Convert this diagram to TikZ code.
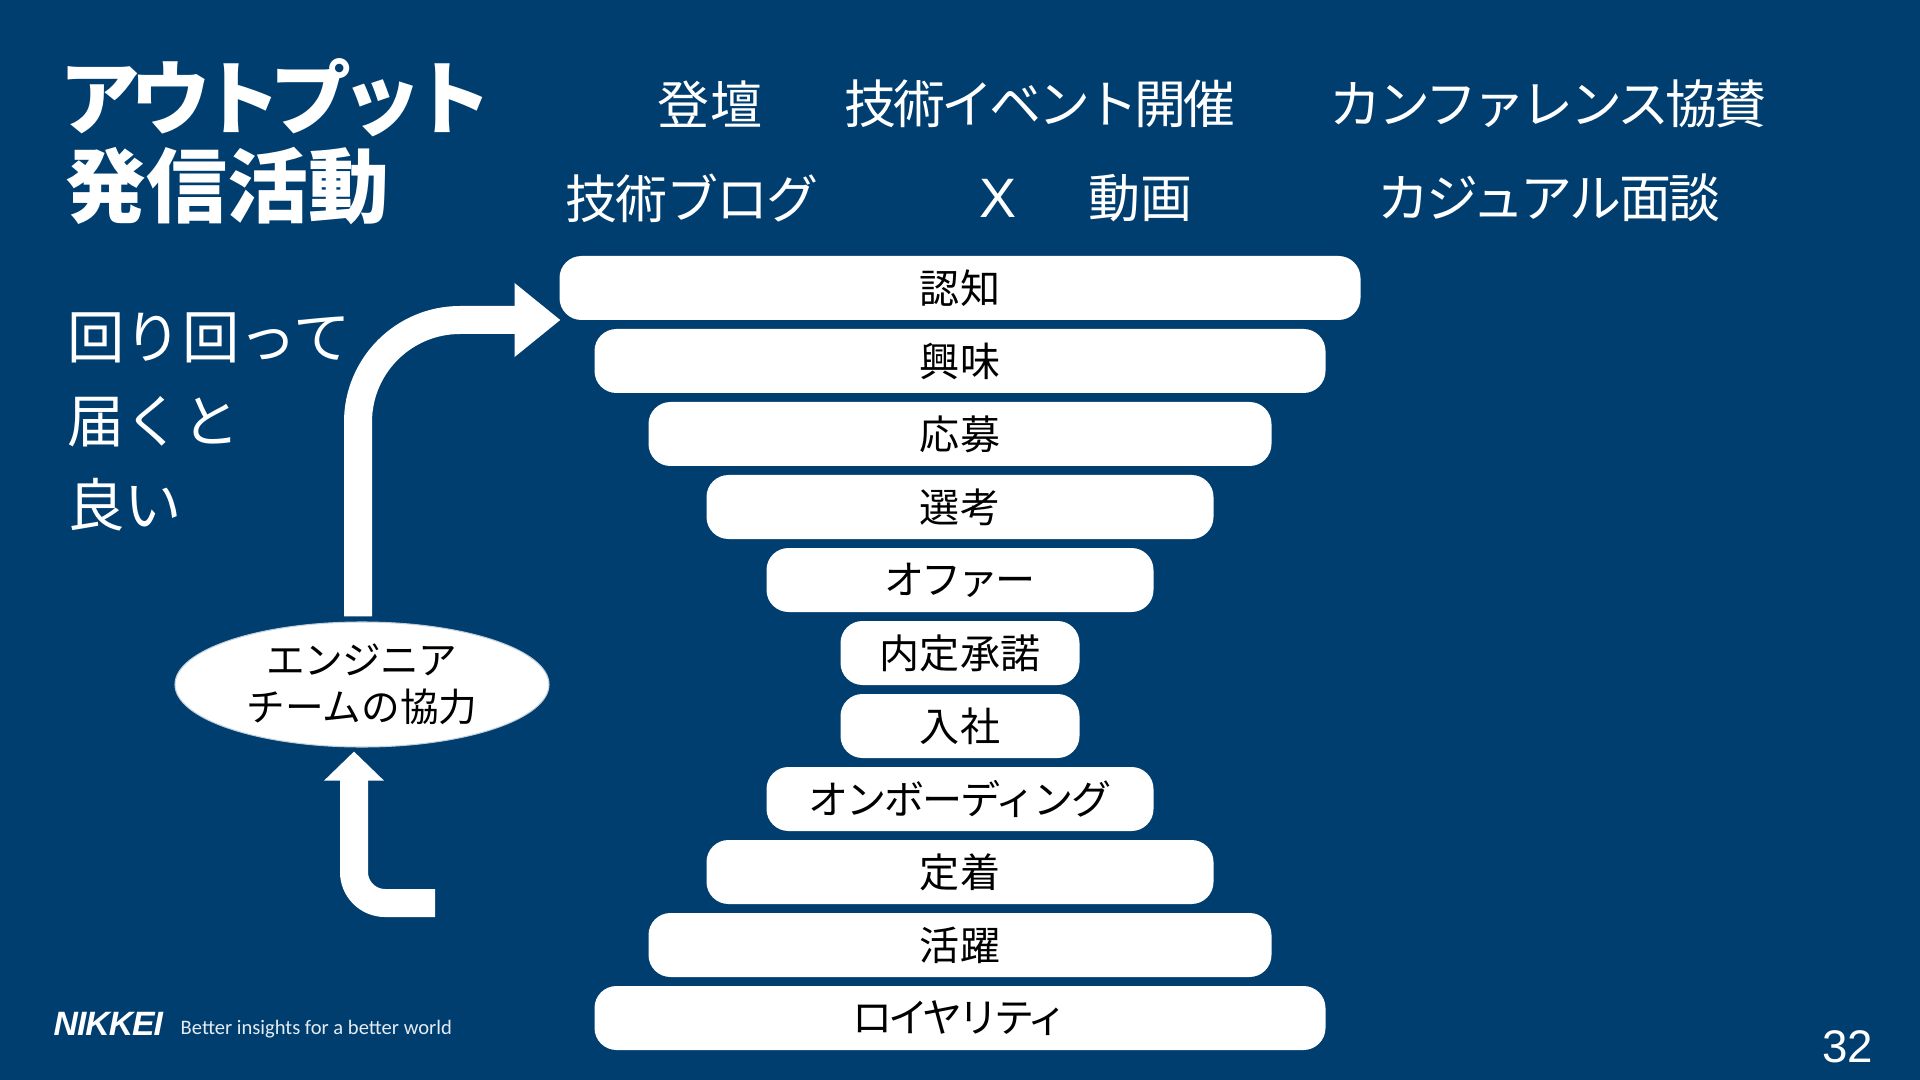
\documentclass[tikz,border=0pt]{standalone}
\usepackage{fontspec}
\setmainfont{Noto Sans CJK JP}
\newfontfamily\logofont{Liberation Sans}
\newfontfamily\tagfont{Carlito}
\usetikzlibrary{arrows.meta,calc,positioning,shapes.geometric}
\definecolor{nikkeiblue}{HTML}{003E70}

\begin{document}
\begin{tikzpicture}[
  bar/.style={fill=white, rounded corners=0.22cm, minimum height=0.64cm, inner sep=0pt, outer sep=0pt, text=black, font=\fontsize{11.4}{12}\selectfont\addfontfeatures{LetterSpace=#1}},
  bar/.default=0,
  item/.style={text=white, inner sep=0pt, font=\fontsize{14.8}{16}\selectfont\addfontfeatures{LetterSpace=#1}},
  item/.default=0,
  flow/.style={draw=white, line cap=butt}]

\fill[nikkeiblue] (0,0) rectangle (19.2,-10.8);
\useasboundingbox (0,0) rectangle (19.2,-10.8);

% Titolo
\node[anchor=west, text=white, inner sep=0pt, align=left, font=\fontsize{23}{25}\selectfont\bfseries] (title) at (0.65,-1.42) {\hspace*{-0.06cm}\addfontfeatures{LetterSpace=-13}アウトプット\\発信活動};
\node[anchor=west, text=white, inner sep=0pt, align=left, font=\fontsize{16.3}{24}\selectfont] (note) at (0.67,-4.22) {回り回って\\届くと\\良い};

% Attivita in alto
\node[item] (talk) at (7.10,-1.04) {登壇};
\node[item=-7] (event) at (10.40,-1.04) {技術イベント開催};
\node[item=-7] (sponsor) at (15.48,-1.04) {カンファレンス協賛};
\node[item=-3] (blog) at (6.92,-1.98) {技術ブログ};
\node[item, font=\logofont\fontsize{15.8}{16}\selectfont] (xpost) at (9.98,-1.98) {X};
\node[item] (video) at (11.40,-1.98) {動画};
\node[item=-5] (casual) at (15.49,-1.98) {カジュアル面談};

% Imbuto
\node[bar, minimum width=8.01cm] (aware) at (9.6,-2.88) {認知};
\node[bar, minimum width=7.31cm, below=0.09cm of aware] (interest) {興味};
\node[bar, minimum width=6.23cm, below=0.09cm of interest] (apply) {応募};
\node[bar, minimum width=5.07cm, below=0.09cm of apply] (screen) {選考};
\node[bar=-8, minimum width=3.87cm, below=0.09cm of screen] (offer) {オファー};
\node[bar, minimum width=2.39cm, below=0.09cm of offer] (accept) {内定承諾};
\node[bar, minimum width=2.39cm, below=0.09cm of accept] (join) {入社};
\node[bar=-5, minimum width=3.87cm, below=0.09cm of join] (onboard) {オンボーディング};
\node[bar, minimum width=5.07cm, below=0.09cm of onboard] (settle) {定着};
\node[bar, minimum width=6.23cm, below=0.09cm of settle] (active) {活躍};
\node[bar=-11, minimum width=7.31cm, below=0.09cm of active] (loyal) {ロイヤリティ};

% Ellisse
\node[ellipse, fill=white, draw=white!75!nikkeiblue, line width=0.3pt, minimum width=3.74cm, minimum height=1.25cm, inner sep=0pt, align=center, font=\fontsize{11}{13.5}\selectfont] (team) at (3.62,-6.845) {\addfontfeatures{LetterSpace=-2}エンジニア\\チームの協力};

% Frecce
\coordinate (start) at (4.35,-9.03);
\draw[flow, line width=0.28cm, rounded corners=1.02cm, -{Triangle[length=0.46cm,width=0.71cm]}]
  ($(team.north)+(-0.04,0.05)$) |- ($(aware.west)+(0.01,-0.32)$);
\draw[flow, line width=0.28cm, rounded corners=0.31cm, -{Triangle[length=0.29cm,width=0.58cm]}]
  (start) -| ($(team.south)+(-0.08,-0.04)$);

% Piede
\node[anchor=west, text=white, inner sep=0pt, font=\logofont\fontsize{9.6}{10}\selectfont\bfseries\itshape\addfontfeatures{LetterSpace=-3}] (logo) at (0.53,-10.24) {NIKKEI};
\node[anchor=west, text=white!90!nikkeiblue, inner sep=0pt, font=\tagfont\fontsize{5.85}{7}\selectfont] (tagline) at (1.80,-10.29) {Better insights for a better world};
\node[anchor=east, text=white, inner sep=0pt, font=\logofont\fontsize{13}{14}\selectfont] (page) at (18.74,-10.47) {32};

\end{tikzpicture}
\end{document}
